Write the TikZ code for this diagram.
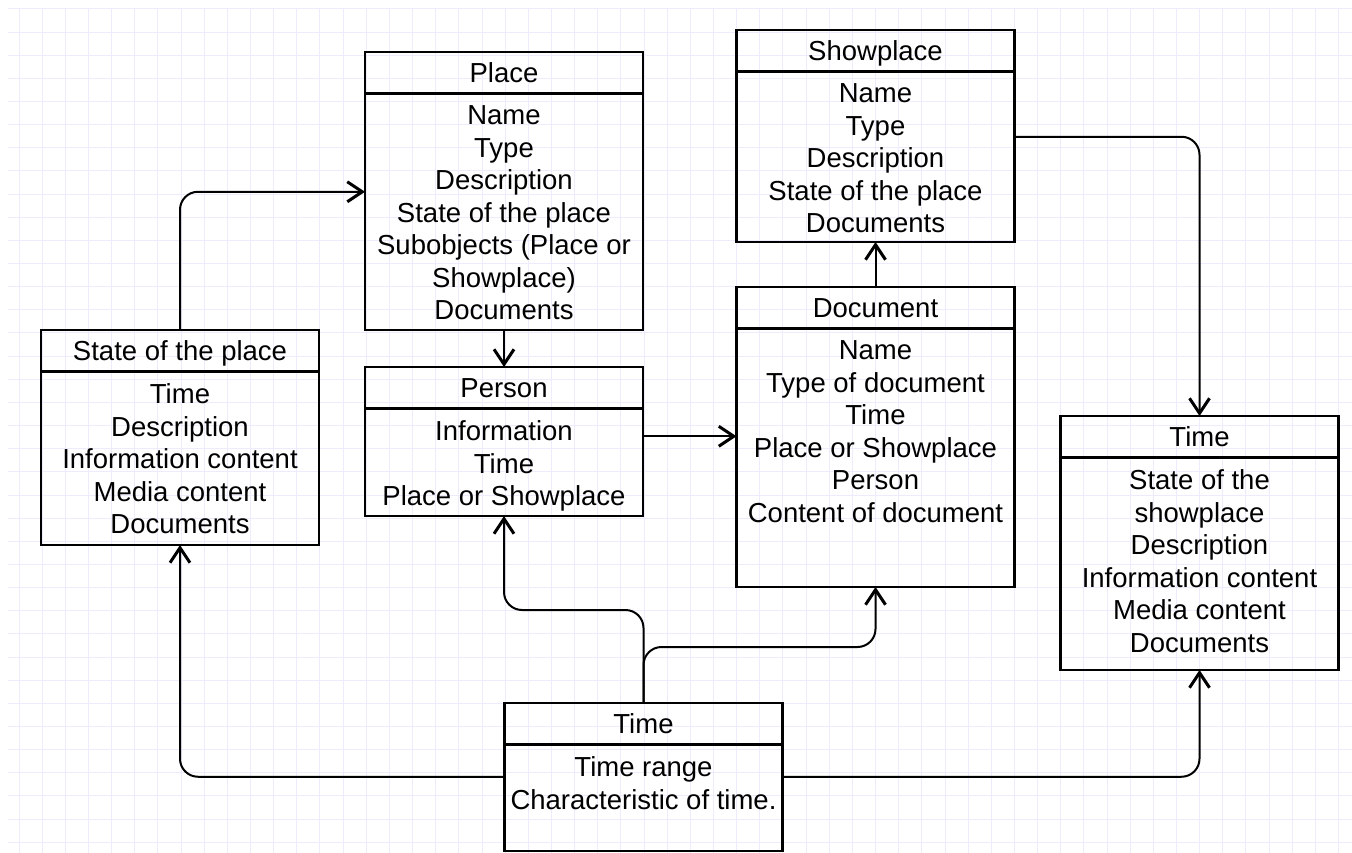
\documentclass[tikz,border=0pt]{standalone}
\usepackage{fontspec}
\setmainfont{Liberation Sans}
\usetikzlibrary{positioning}
\usetikzlibrary{arrows.meta}
\definecolor{gridblue}{RGB}{236,236,252}
\tikzset{
	entnode/.style = {
		rectangle,
		draw=black,
		line width=2.2pt,
		inner sep=0pt,
		outer sep=0pt,
		minimum width=278pt,
		font=\fontsize{27.5}{32.5}\selectfont
	},
	ent_head/.style = {
		entnode,
		anchor=north,
		minimum height=41.5pt,
		text height=19.5pt,
		text depth=0pt
	},
	ent_body/.style = {
		entnode
	},
	ent_lines/.style = {
		anchor=north,
		align=center,
		inner xsep=6pt,
		inner ysep=12pt,
		font=\fontsize{27.5}{32.5}\selectfont,
		execute at begin node=\strut
	},
	link/.style = {
		->,
		line width=2pt,
		rounded corners=18pt
	}
}
\begin{document}
\begin{tikzpicture}[x=1pt,y=-1pt,>={Straight Barb[length=15pt,width=20pt,line width=1pt 1]}]
\useasboundingbox (0,0) rectangle (1352,852);
\begin{scope}
	\clip (8,8) rectangle (1352,852);
	\draw[gridblue, line width=1pt, shift={(19,8.85)}] (-46.3,-46.3) grid[step=23.15pt] (1400,900);
\end{scope}

\node [ent_head] (placeH) at (504,52) {Place};
\node [ent_body, minimum height=236.5pt, below=0pt of placeH,
	label={[ent_lines]north:{Name\\Type\\Description\\State of the place\\Subobjects (Place or\\Showplace)\\Documents}}] (placeB) {};

\node [ent_head] (showH) at (875.5,30) {Showplace};
\node [ent_body, minimum height=170.5pt, below=0pt of showH,
	label={[ent_lines]north:{Name\\Type\\Description\\State of the place\\Documents}}] (showB) {};

\node [ent_head] (sotpH) at (180,330) {State of the place};
\node [ent_body, minimum height=173.5pt, below=0pt of sotpH,
	label={[ent_lines]north:{Time\\Description\\Information content\\Media content\\Documents}}] (sotpB) {};

\node [ent_head] (personH) at (504,367) {Person};
\node [ent_body, minimum height=107.5pt, below=0pt of personH,
	label={[ent_lines]north:{Information\\Time\\Place or Showplace}}] (personB) {};

\node [ent_head] (docH) at (875.5,287) {Document};
\node [ent_body, minimum height=258.5pt, below=0pt of docH,
	label={[ent_lines]north:{Name\\Type of document\\Time\\Place or Showplace\\Person\\Content of document}}] (docB) {};

\node [ent_head] (timeRH) at (1199.5,416) {Time};
\node [ent_body, minimum height=212.5pt, below=0pt of timeRH,
	label={[ent_lines]north:{State of the\\showplace\\Description\\Information content\\Media content\\Documents}}] (timeRB) {};

\node [ent_head] (timeBH) at (643.5,703) {Time};
\node [ent_body, minimum height=106.5pt, below=0pt of timeBH,
	label={[ent_lines]north:{Time range\\Characteristic of time.}}] (timeBB) {};

\draw [link] (sotpH.north) |- ([yshift=20pt]placeB.west);
\draw [link] (placeB.south) -- (personH.north);
\draw [link] ([yshift=26pt]personB.east) -- ([yshift=26pt]personB.east -| docB.west);
\draw [link] (docH.north) -- (showB.south);
\draw [link] ([yshift=20pt]showB.east) -| (timeRH.north);
\draw [link] (timeBH.north) |- ([yshift=-94pt]personB.south) -- (personB.south);
\draw [link] (timeBH.north) |- ([yshift=-60pt]docB.south) -- (docB.south);
\draw [link] ([yshift=21pt]timeBB.west) -| (sotpB.south);
\draw [link] ([yshift=21pt]timeBB.east) -| (timeRB.south);
\end{tikzpicture}
\end{document}
